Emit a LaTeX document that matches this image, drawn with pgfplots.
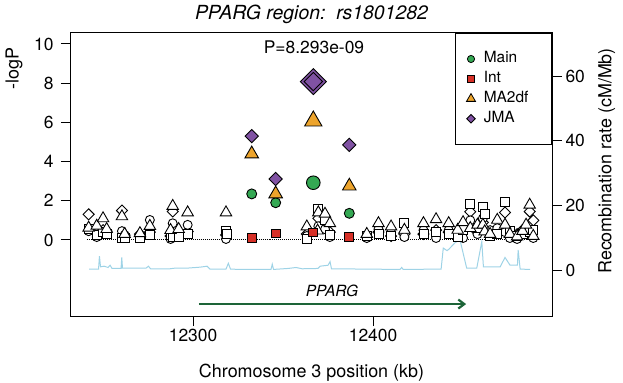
\documentclass[border=0pt]{standalone}
\usepackage{fontspec}
\setmainfont{TeX Gyre Heros}
\usepackage{pgfplots}
\pgfplotsset{compat=1.18}
\usetikzlibrary{arrows.meta}
\definecolor{mainc}{RGB}{52,168,83}
\definecolor{intc}{RGB}{215,48,39}
\definecolor{mac}{RGB}{237,164,44}
\definecolor{jmac}{RGB}{128,82,163}
\definecolor{genec}{RGB}{29,100,56}
\definecolor{recc}{RGB}{158,211,230}
\newcommand{\tickfont}{\fontsize{17.5}{20}\selectfont}
\newcommand{\labfont}{\fontsize{18}{21}\selectfont}
\begin{document}
\begin{tikzpicture}
\path[use as bounding box] (-71bp,-67bp) rectangle (552bp,316bp);
% recombination axis (right)
\begin{axis}[at={(0,0)}, anchor=south west, scale only axis,
  width=481bp, height=283bp,
  xmin=12232.2, xmax=12499.4, ymin=-14.2, ymax=73.3,
  axis x line=none, axis y line*=right,
  ytick={0,20,40,60}, tick align=outside, major tick length=10bp,
  minor tick num=0,
  axis line style={line width=1bp},
  every tick/.style={black, line width=1bp},
  /pgf/number format/assume math mode=true,
  yticklabel style={font=\tickfont},
  ylabel={Recombination rate (cM/Mb)},
  ylabel style={font=\labfont, at={(axis description cs:1.114,0.548)}, anchor=center},
]
\addplot[recc, line width=1bp] coordinates {
(12242.2,0.3) (12247.5,0.3) (12248,4.3) (12248.6,1.0) (12250.6,1.2) (12252.8,0.8)
(12253.9,1.5) (12255,0.5) (12260,0.5) (12260.4,3.9) (12260.8,0.6) (12273.9,0.6)
(12275.2,1.2) (12276.4,0.4) (12287.2,0.4) (12290,0.6) (12296.7,0.6) (12303.9,0.9)
(12307.8,1.2) (12309.4,0.3) (12318.3,0.3) (12319.6,2.1) (12320.8,0.3) (12326.1,0.2)
(12343.3,0.2) (12344,1.8) (12344.7,0.2) (12352.8,0.5) (12357.2,0.8) (12360.6,0.4)
(12369.4,0.5) (12370.6,1.2) (12375,1.5) (12376.1,2.6) (12376.9,0.4) (12415,0.2)
(12415.9,0.8) (12416.7,0.2) (12437.8,0.3) (12439,6.8) (12441.1,6.0) (12442.2,6.5)
(12445.6,8.5) (12448.3,9.3) (12452,0.6) (12457.6,0.6) (12460.4,8.8) (12461.3,1.0)
(12470.6,1.0) (12473.3,3.9) (12476.1,1.5) (12480.2,1.5) (12480.6,6.2) (12481.7,0.3)
(12487.2,0.2)
};
\end{axis}
% main axis
\begin{axis}[at={(0,0)}, anchor=south west, scale only axis,
  width=481bp, height=283bp,
  xmin=12232.2, xmax=12499.4, ymin=-3.88, ymax=10.56,
  xtick={12300,12400}, ytick={0,2,4,6,8,10},
  xtick pos=bottom, ytick pos=left,
  tick align=outside, major tick length=10bp, minor tick num=0,
  axis line style={line width=1bp},
  every tick/.style={black, line width=1bp},
  scaled x ticks=false,
  /pgf/number format/assume math mode=true,
  /pgf/number format/1000 sep={},
  tick label style={font=\tickfont},
  yticklabel style={xshift=-4bp},
  title={\itshape PPARG region:\ \ rs1801282},
  title style={font=\fontsize{19.5}{22}\selectfont, at={(axis description cs:0.5,1)}, anchor=base, yshift=8bp},
  xlabel={Chromosome 3 position (kb)},
  xlabel style={font=\labfont, at={(axis description cs:0.5,0)}, anchor=base, yshift=-61bp},
  ylabel={-logP},
  ylabel style={font=\labfont, at={(axis description cs:-0.1185,0.875)}, anchor=center},
  legend cell align=left,
  legend style={at={(1,1)}, anchor=north east, draw=black, line width=1bp,
    font=\fontsize{15.5}{18}\selectfont, inner xsep=10.7bp, inner ysep=18.5bp,
    row sep=5.9bp, nodes={inner sep=0pt, text height=11bp, text depth=3bp},
    /tikz/every odd column/.append style={column sep=8.3bp}},
]
\addlegendimage{only marks, mark=*, mark size=3.6bp, mark options={fill=mainc, draw=black, line width=0.8bp}}
\addlegendentry{\makebox[57bp][l]{Main}}
\addlegendimage{only marks, mark=square*, mark size=3.2bp, mark options={fill=intc, draw=black, line width=0.8bp}}
\addlegendentry{\makebox[57bp][l]{Int}}
\addlegendimage{only marks, mark=triangle*, mark size=5.2bp, mark options={fill=mac, draw=black, line width=0.8bp}}
\addlegendentry{\makebox[57bp][l]{MA2df}}
\addlegendimage{only marks, mark=square*, mark size=3.0bp, mark options={rotate=45, fill=jmac, draw=black, line width=0.8bp}}
\addlegendentry{\makebox[57bp][l]{JMA}}

\addplot[black, densely dotted, line width=1bp, forget plot] coordinates {(12241,0) (12490,0)};

% other SNPs (open symbols)
\addplot[only marks, mark=square*, mark size=3.9bp, mark options={rotate=45, fill=white, draw=black, line width=0.9bp}, forget plot] coordinates {
(12242,1.31) (12246.5,0.35) (12250,0.5) (12252,0.45) (12260.5,1.5) (12262,0.25)
(12270.5,0.3) (12276,0.4) (12287.5,0.2) (12288.7,1.45) (12292,0.3) (12297,0.43)
(12318.3,0.25) (12363.2,0.3) (12369.6,1.1) (12373.3,0.9) (12376,0.4) (12396.5,0.15)
(12403,0.4) (12410,0.2) (12417.4,0.3) (12428,0.3) (12435,0.5) (12442,0.4)
(12447,0.25) (12450,0.5) (12454,1.44) (12458,0.4) (12461,0.9) (12465,0.3)
(12469,0.5) (12473.3,1.4) (12476,0.3) (12480,0.3) (12483,0.5) (12485,0.4)
(12487,1.45) (12489,1.0)
};
\addplot[only marks, mark=*, mark size=4.5bp, mark options={fill=white, draw=black, line width=0.9bp}, forget plot] coordinates {
(12242,0.45) (12246.5,0.15) (12250,0.3) (12252,0.35) (12260.5,0.45) (12262,0.25)
(12270.5,0.2) (12276,1.02) (12287.5,0.05) (12288.7,0.85) (12292,0.3) (12297,0.77)
(12318.3,0.05) (12363.2,0.2) (12369.6,0.7) (12373.3,0.55) (12376,0.15) (12396.5,0.1)
(12403,0.55) (12410,0.4) (12417.4,0.15) (12428,0.5) (12435,0.1) (12442,0.5)
(12447,0.35) (12450,0.1) (12454,1.0) (12458,0.3) (12461,1.1) (12465,0.5)
(12469,0.6) (12473.3,0.4) (12476,0.1) (12480,0.05) (12483,0.35) (12487,0.5) (12489,0.1)
};
\addplot[only marks, mark=square*, mark size=4.5bp, mark options={fill=white, draw=black, line width=0.9bp}, forget plot] coordinates {
(12242,0.55) (12246.5,0.25) (12250,0.4) (12252,0.3) (12260.5,0.12) (12262,0.1)
(12270.5,0.1) (12276,0.26) (12287.5,0.25) (12288.7,0.17) (12292,0.15) (12297,0.3)
(12318.3,0.46) (12318.8,0.3) (12363.2,0.05) (12369.6,1.6) (12373.3,1.0) (12376,0.26)
(12396.5,0.2) (12403,0.3) (12410,0.2) (12417.4,0.88) (12428,0.3) (12435,0.43)
(12442,0.3) (12447,0.15) (12450,0.5) (12454,1.82) (12458,0.6) (12461,1.67)
(12462,1.34) (12465,0.2) (12469,0.3) (12473.3,1.96) (12476,0.45) (12480,0.2)
(12483,0.3) (12487,0.4) (12489,0.5)
};
\addplot[only marks, mark=triangle*, mark size=6.6bp, mark options={fill=white, draw=black, line width=0.9bp}, forget plot] coordinates {
(12242,0.62) (12246.5,0.72) (12250,1.1) (12252,0.55) (12260.5,1.2) (12262,0.3)
(12270.5,0.34) (12276,0.71) (12287.5,0.5) (12288.7,1.73) (12292,0.55) (12297,1.4)
(12318.3,1.4) (12363.2,0.68) (12369.6,1.4) (12369.2,0.47) (12373.3,1.33) (12376,0.85)
(12396.5,0.3) (12403,0.85) (12410,0.68) (12417.4,0.51) (12428,0.85) (12435,1.05)
(12442,0.85) (12447,0.51) (12450,0.9) (12454,0.6) (12458,0.77) (12461,0.77)
(12462,0.43) (12465,0.3) (12469,1.02) (12473.3,0.77) (12476,0.3) (12480,0.17)
(12483,0.45) (12485,0.77) (12487,1.79) (12489,0.2)
};

% highlighted SNPs
\addplot[only marks, mark=*, mark size=5bp, mark options={fill=mainc, draw=black, line width=0.9bp}, forget plot] coordinates {
(12332.6,2.35) (12345.9,1.9) (12386.8,1.36)};
\addplot[only marks, mark=square*, mark size=4.4bp, mark options={fill=intc, draw=black, line width=0.9bp}, forget plot] coordinates {
(12332.6,0.09) (12345.9,0.33) (12386.8,0.14) (12366.8,0.38)};
\addplot[only marks, mark=triangle*, mark size=7.8bp, mark options={fill=mac, draw=black, line width=0.9bp}, forget plot] coordinates {
(12332.6,4.39) (12345.9,2.35) (12386.8,2.75)};
\addplot[only marks, mark=square*, mark size=4.7bp, mark options={rotate=45, fill=jmac, draw=black, line width=0.9bp}, forget plot] coordinates {
(12332.6,5.3) (12345.9,3.11) (12386.8,4.85)};
% lead SNP
\addplot[only marks, mark=*, mark size=6.8bp, mark options={fill=mainc, draw=black, line width=0.9bp}, forget plot] coordinates {(12366.8,2.92)};
\addplot[only marks, mark=triangle*, mark size=10bp, mark options={fill=mac, draw=black, line width=0.9bp}, forget plot] coordinates {(12366.8,6.07)};
\addplot[only marks, mark=square*, mark size=9.2bp, mark options={rotate=45, fill=jmac, draw=black, line width=0.9bp}, forget plot] coordinates {(12366.8,8.08)};
\addplot[only marks, mark=square, mark size=6.5bp, mark options={rotate=45, draw=black, line width=0.9bp}, forget plot] coordinates {(12366.8,8.08)};

\node[font=\tickfont] at (axis cs:12367.2,9.85) {P=8.293e-09};
\draw[genec, line width=2.2bp, -{Straight Barb[length=6bp, width=9bp]}] (axis cs:12303.3,-3.27) -- (axis cs:12451.7,-3.27);
\node[font=\fontsize{15.5}{18}\selectfont\itshape] at (axis cs:12377.2,-2.59) {PPARG};
\end{axis}
\end{tikzpicture}
\end{document}
